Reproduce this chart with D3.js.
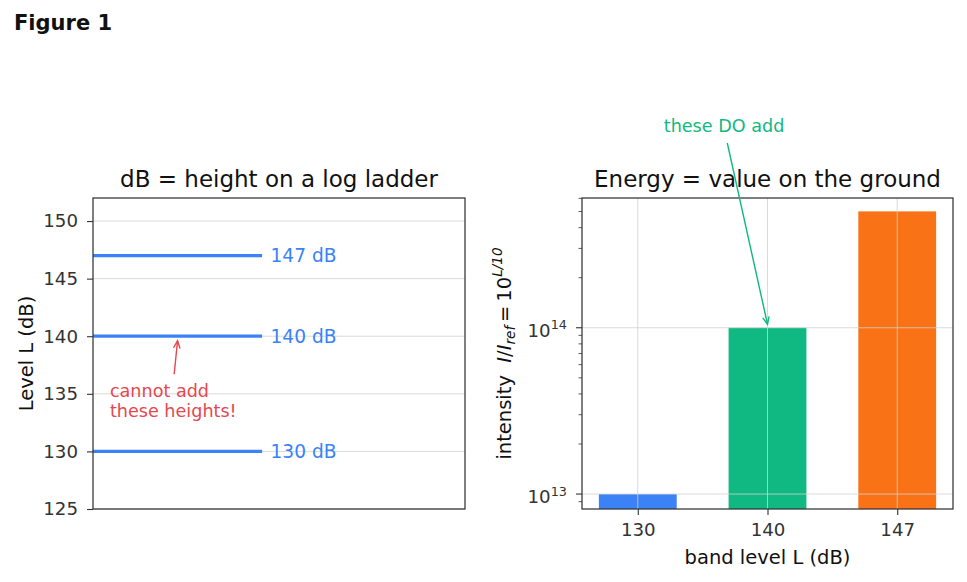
<!DOCTYPE html>
<html>
<head>
<meta charset="utf-8">
<script src="https://cdn.jsdelivr.net/npm/d3@7"></script>
<style>
  body { margin: 0; background: #fff; }
  text { font-family: "DejaVu Sans", sans-serif; }
</style>
</head>
<body>
<div id="chart"></div>
<script>
// Data
let levels = [130, 140, 147];
let levelLabels = ['130 dB', '140 dB', '147 dB'];
let bandLabels = ['130', '140', '147'];
let intensities = [1e13, 1e14, 5.01e14];
let barColors = ['#3b82f6', '#10b981', '#f97316'];
let leftTicks = [125, 130, 135, 140, 145, 150];
let rightTicks = [1e13, 1e14];

let svgWidth = 967;
let svgHeight = 582;
let ink = '#333333';
let gridColor = '#d0d0d0';
let tickFont = 18.2;
let labelFont = 19.5;
let titleFont = 23;
let noteFont = 17.6;

let svg = d3.select('#chart').append('svg')
  .attr('width', svgWidth)
  .attr('height', svgHeight);

svg.append('text')
  .attr('x', 14).attr('y', 30)
  .attr('font-size', 21).attr('font-weight', 'bold')
  .attr('fill', '#111')
  .text('Figure 1');

// arrow with open head ("->" style)
function arrowHead(g, x1, y1, x2, y2, color) {
  let ang = Math.atan2(y2 - y1, x2 - x1);
  let len = 8, spread = 0.42;
  let p = d3.path();
  p.moveTo(x2 - len * Math.cos(ang - spread), y2 - len * Math.sin(ang - spread));
  p.lineTo(x2, y2);
  p.lineTo(x2 - len * Math.cos(ang + spread), y2 - len * Math.sin(ang + spread));
  g.append('line').attr('x1', x1).attr('y1', y1).attr('x2', x2).attr('y2', y2)
    .attr('stroke', color).attr('stroke-width', 1.4);
  g.append('path').attr('d', p.toString()).attr('fill', 'none')
    .attr('stroke', color).attr('stroke-width', 1.4);
}

// ---------- Left panel ----------
let L = { left: 93, right: 465, top: 198, bottom: 509 };
let xL = d3.scaleLinear().domain([0, 2.2]).range([L.left, L.right]);
let yL = d3.scaleLinear().domain([125, 152]).range([L.bottom, L.top]);

let left = svg.append('g');

left.selectAll('.gridL').data(leftTicks).enter().append('line')
  .attr('x1', L.left).attr('x2', L.right)
  .attr('y1', d => yL(d)).attr('y2', d => yL(d))
  .attr('stroke', gridColor).attr('stroke-width', 0.8);

let leftAxis = d3.axisLeft(yL).tickValues(leftTicks).tickSize(6).tickPadding(9);
let yAxisL = left.append('g')
  .attr('transform', `translate(${L.left},0)`)
  .call(leftAxis);
yAxisL.select('.domain').remove();
yAxisL.selectAll('line').attr('stroke', ink).attr('stroke-width', 1.1);
yAxisL.selectAll('text').attr('font-size', tickFont).attr('fill', ink)
  .attr('font-family', '"DejaVu Sans", sans-serif');

left.selectAll('.lvl').data(levels).enter().append('line')
  .attr('x1', xL(0)).attr('x2', xL(1))
  .attr('y1', d => yL(d)).attr('y2', d => yL(d))
  .attr('stroke', '#3b82f6').attr('stroke-width', 3.2);

left.selectAll('.lvlText').data(levels).enter().append('text')
  .attr('x', xL(1.05)).attr('y', d => yL(d)).attr('dy', '0.35em')
  .attr('font-size', 18.6).attr('fill', '#3b82f6')
  .text((d, i) => levelLabels[i]);

left.append('rect')
  .attr('x', L.left).attr('y', L.top)
  .attr('width', L.right - L.left).attr('height', L.bottom - L.top)
  .attr('fill', 'none').attr('stroke', ink).attr('stroke-width', 1.25);

left.append('text')
  .attr('x', (L.left + L.right) / 2).attr('y', 187)
  .attr('text-anchor', 'middle').attr('font-size', titleFont).attr('fill', '#111')
  .text('dB = height on a log ladder');

left.append('text')
  .attr('transform', `translate(33,${(L.top + L.bottom) / 2}) rotate(-90)`)
  .attr('text-anchor', 'middle').attr('font-size', labelFont).attr('fill', '#111')
  .text('Level L (dB)');

let red = '#e5484d';
arrowHead(left, xL(0.48), yL(136.7), xL(0.5), yL(139.6), red);
left.append('text')
  .attr('x', xL(0.1)).attr('y', 397)
  .attr('font-size', noteFont).attr('fill', red)
  .text('cannot add');
left.append('text')
  .attr('x', xL(0.1)).attr('y', 417)
  .attr('font-size', noteFont).attr('fill', red)
  .text('these heights!');

// ---------- Right panel ----------
let R = { left: 582, right: 953, top: 198, bottom: 509 };
let xR = d3.scaleLinear().domain([-0.43, 2.43]).range([R.left, R.right]);
let yR = d3.scaleLog().domain([8.13e12, 6.03e14]).range([R.bottom, R.top]);

let right = svg.append('g');

right.selectAll('.bar').data(intensities).enter().append('rect')
  .attr('x', (d, i) => xR(i - 0.3))
  .attr('width', xR(0.6) - xR(0))
  .attr('y', d => yR(d))
  .attr('height', d => R.bottom - yR(d))
  .attr('fill', (d, i) => barColors[i]);

// grid on top of bars
right.selectAll('.gridY').data(rightTicks).enter().append('line')
  .attr('x1', R.left).attr('x2', R.right)
  .attr('y1', d => yR(d)).attr('y2', d => yR(d))
  .attr('stroke', gridColor).attr('stroke-width', 0.8);
right.selectAll('.gridX').data(bandLabels).enter().append('line')
  .attr('x1', (d, i) => xR(i)).attr('x2', (d, i) => xR(i))
  .attr('y1', R.top).attr('y2', R.bottom)
  .attr('stroke', gridColor).attr('stroke-width', 0.8);

// x axis
let bottomAxis = d3.axisBottom(xR).tickValues([0, 1, 2])
  .tickFormat(i => bandLabels[i]).tickSize(6).tickPadding(8);
let xAxisR = right.append('g')
  .attr('transform', `translate(0,${R.bottom})`)
  .call(bottomAxis);
xAxisR.select('.domain').remove();
xAxisR.selectAll('line').attr('stroke', ink).attr('stroke-width', 1.1);
xAxisR.selectAll('text').attr('font-size', tickFont).attr('fill', ink)
  .attr('font-family', '"DejaVu Sans", sans-serif');

// y axis, log: major + minor ticks
let minorTicks = [];
[12, 13, 14].forEach(e => {
  for (let m = 2; m <= 9; m++) {
    let v = m * Math.pow(10, e);
    if (v > yR.domain()[0] && v < yR.domain()[1]) minorTicks.push(v);
  }
});
right.selectAll('.minor').data(minorTicks).enter().append('line')
  .attr('x1', R.left - 3.5).attr('x2', R.left)
  .attr('y1', d => yR(d)).attr('y2', d => yR(d))
  .attr('stroke', ink).attr('stroke-width', 0.8);
right.selectAll('.major').data(rightTicks).enter().append('line')
  .attr('x1', R.left - 6).attr('x2', R.left)
  .attr('y1', d => yR(d)).attr('y2', d => yR(d))
  .attr('stroke', ink).attr('stroke-width', 1.1);
let majorLbl = right.selectAll('.majorLbl').data(rightTicks).enter().append('text')
  .attr('x', R.left - 15).attr('y', d => yR(d) + 9)
  .attr('text-anchor', 'end').attr('fill', ink).attr('font-size', tickFont);
majorLbl.append('tspan').text('10');
majorLbl.append('tspan').attr('dy', -7.5).attr('font-size', 12.8)
  .text(d => Math.round(Math.log10(d)));

right.append('rect')
  .attr('x', R.left).attr('y', R.top)
  .attr('width', R.right - R.left).attr('height', R.bottom - R.top)
  .attr('fill', 'none').attr('stroke', ink).attr('stroke-width', 1.25);

right.append('text')
  .attr('x', (R.left + R.right) / 2).attr('y', 187)
  .attr('text-anchor', 'middle').attr('font-size', titleFont).attr('fill', '#111')
  .text('Energy = value on the ground');

right.append('text')
  .attr('x', (R.left + R.right) / 2).attr('y', 564)
  .attr('text-anchor', 'middle').attr('font-size', labelFont).attr('fill', '#111')
  .text('band level L (dB)');

// y label with math
let yLab = right.append('text')
  .attr('transform', `translate(511,${(R.top + R.bottom) / 2}) rotate(-90)`)
  .attr('text-anchor', 'middle').attr('font-size', labelFont).attr('fill', '#111');
yLab.append('tspan').text('intensity\u00a0\u00a0');
yLab.append('tspan').attr('font-style', 'italic').text('I');
yLab.append('tspan').text('/');
yLab.append('tspan').attr('font-style', 'italic').text('I');
yLab.append('tspan').attr('font-style', 'italic').attr('font-size', 13.6).attr('dy', 4).text('ref');
yLab.append('tspan').attr('dy', -4).text('\u2009=\u200910');
yLab.append('tspan').attr('font-style', 'italic').attr('font-size', 13.6).attr('dy', -9).text('L/10');

let green = '#10b981';
arrowHead(right, xR(0.69), 143, xR(1.0), yR(1.05e14), green);
right.append('text')
  .attr('x', xR(0.665)).attr('y', 132)
  .attr('text-anchor', 'middle').attr('font-size', noteFont).attr('fill', green)
  .text('these DO add');
</script>
</body>
</html>
